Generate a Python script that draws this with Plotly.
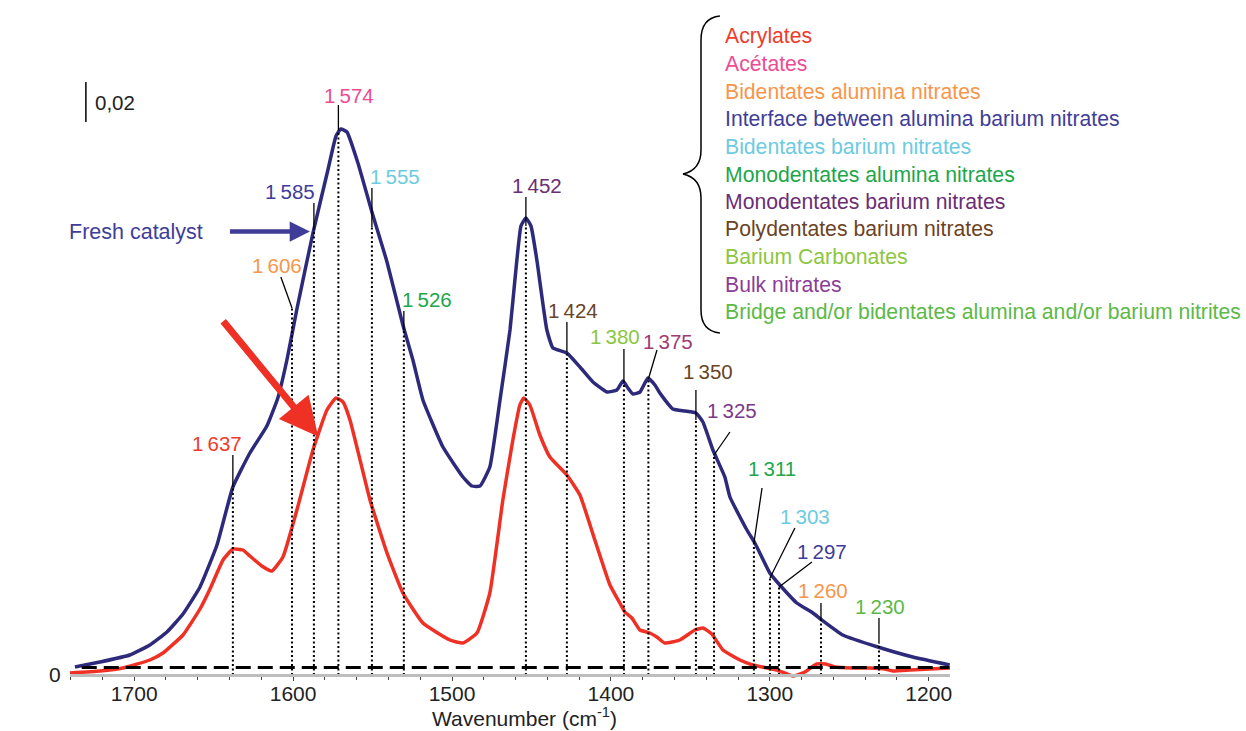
import plotly.graph_objects as go

# ---------------- data ----------------
fresh_x = [1737.3, 1721.6, 1702.7, 1690.1, 1679.4, 1669.3, 1658.6, 1647.9, 1637.9, 1627.2,
           1616.5, 1609.6, 1603.9, 1597.6, 1587.5, 1578.1, 1573.0, 1569.9, 1566.1, 1559.2,
           1550.4, 1540.9, 1530.9, 1524.6, 1518.3, 1505.7, 1493.1, 1487.5, 1482.4, 1476.2,
           1469.8, 1463.5, 1459.8, 1456.6, 1453.5, 1450.3, 1446.6, 1440.3, 1436.5, 1427.7,
           1419.5, 1411.3, 1402.5, 1396.2, 1392.4, 1389.3, 1386.1, 1381.7, 1376.7, 1372.3,
           1369.2, 1361.0, 1353.4, 1346.5, 1342.1, 1335.8, 1328.3, 1325.1, 1314.4, 1309.4,
           1300.0, 1293.7, 1283.0, 1272.9, 1267.3, 1254.1, 1232.0, 1210.0, 1186.8]
fresh_y = [0.0040, 0.0065, 0.0100, 0.0150, 0.0215, 0.0305, 0.0440, 0.0650, 0.0940, 0.1110,
           0.1245, 0.1385, 0.1575, 0.1830, 0.2210, 0.2525, 0.2695, 0.2730, 0.2715, 0.2560,
           0.2315, 0.2065, 0.1750, 0.1575, 0.1375, 0.1140, 0.0990, 0.0945, 0.0945, 0.1040,
           0.1375, 0.1725, 0.2025, 0.2245, 0.2285, 0.2245, 0.2075, 0.1725, 0.1635, 0.1610,
           0.1540, 0.1465, 0.1415, 0.1425, 0.1470, 0.1435, 0.1405, 0.1415, 0.1485, 0.1450,
           0.1410, 0.1330, 0.1320, 0.1310, 0.1265, 0.1125, 0.0990, 0.0890, 0.0725, 0.0660,
           0.0510, 0.0450, 0.0360, 0.0310, 0.0275, 0.0200, 0.0140, 0.0090, 0.0050]

aged_x = [1740.5, 1721.6, 1707.1, 1690.1, 1681.9, 1669.3, 1658.6, 1652.3, 1644.1, 1637.9,
          1631.6, 1627.2, 1619.7, 1613.4, 1606.4, 1597.6, 1587.5, 1578.7, 1573.0, 1568.6,
          1564.2, 1551.6, 1540.9, 1530.9, 1518.3, 1501.3, 1493.1, 1484.3, 1476.2, 1468.0,
          1461.7, 1457.3, 1454.8, 1451.0, 1444.7, 1438.4, 1427.7, 1419.5, 1410.1, 1400.6,
          1394.4, 1391.2, 1386.8, 1381.7, 1375.5, 1371.1, 1366.1, 1356.6, 1347.2, 1342.1,
          1336.5, 1329.5, 1318.8, 1310.7, 1295.6, 1285.5, 1278.0, 1270.5, 1264.8, 1259.1,
          1247.8, 1237.1, 1227.6, 1222.6, 1211.9, 1199.4, 1184.9]
aged_y = [0.0010, 0.0020, 0.0035, 0.0075, 0.0110, 0.0200, 0.0330, 0.0430, 0.0575, 0.0630,
          0.0625, 0.0595, 0.0545, 0.0520, 0.0590, 0.0825, 0.1125, 0.1325, 0.1385, 0.1365,
          0.1275, 0.0875, 0.0610, 0.0410, 0.0260, 0.0175, 0.0160, 0.0210, 0.0410, 0.0875,
          0.1175, 0.1350, 0.1385, 0.1350, 0.1200, 0.1090, 0.1000, 0.0900, 0.0675, 0.0450,
          0.0360, 0.0315, 0.0285, 0.0225, 0.0210, 0.0190, 0.0160, 0.0175, 0.0225, 0.0235,
          0.0205, 0.0125, 0.0075, 0.0050, 0.0025, -0.0005, 0.0015, 0.0055, 0.0055, 0.0040,
          0.0035, 0.0035, 0.0030, 0.0020, 0.0025, 0.0030, 0.0035]

peak_labels = [1637, 1606, 1585, 1574, 1555, 1526, 1452, 1424, 1380, 1375, 1350, 1325,
               1311, 1303, 1297, 1260, 1230]
peak_colors = ["#ef3b2c", "#f7964a", "#3f3d98", "#ec4c94", "#6dcbe0", "#20a64a", "#6b2d74",
               "#6b4325", "#8cc63f", "#a03a74", "#6b4325", "#7a3a8c", "#20a64a", "#6dcbe0",
               "#3f3d98", "#f7964a", "#5cb947"]
line_pos = [1637.9, 1600.7, 1586.9, 1571.5, 1550.4, 1530.3, 1453.5, 1427.7, 1391.8, 1376.4,
            1346.5, 1335.1, 1310.0, 1299.9, 1294.2, 1267.8, 1231.3]
line_top = [0.094, 0.1835, 0.2225, 0.2725, 0.224, 0.1725, 0.2245, 0.1615, 0.147, 0.148,
            0.1275, 0.110, 0.066, 0.0485, 0.044, 0.0275, 0.016]
leader_x = [1637.9, 1607.7, 1586.9, 1571.5, 1550.4, 1530.3, 1453.5, 1427.7, 1391.8, 1371.0,
            1346.5, 1325.1, 1304.9, 1284.2, 1273.5, 1267.8, 1231.3]
leader_y = [0.110, 0.199, 0.236, 0.285, 0.2435, 0.182, 0.239, 0.1765, 0.163, 0.1625,
            0.1425, 0.1215, 0.0935, 0.0735, 0.0565, 0.036, 0.0285]
label_x = [1648.1, 1610.4, 1602.0, 1564.7, 1535.9, 1516.0, 1446.7, 1423.7, 1397.4, 1363.9,
           1338.7, 1324.0, 1298.8, 1277.9, 1267.3, 1266.3, 1230.7]
label_y = [0.116, 0.205, 0.2417, 0.290, 0.2492, 0.188, 0.245, 0.1825, 0.1695, 0.167,
           0.1517, 0.1325, 0.1034, 0.0792, 0.0617, 0.0425, 0.0342]

legend_names = ["Acrylates", "Acétates", "Bidentates alumina nitrates",
                "Interface between alumina barium nitrates", "Bidentates barium nitrates",
                "Monodentates alumina nitrates", "Monodentates barium nitrates",
                "Polydentates barium nitrates", "Barium Carbonates", "Bulk nitrates",
                "Bridge and/or bidentates alumina and/or barium nitrites"]
legend_colors = ["#ef3b2c", "#ec4c94", "#f7964a", "#3f3d98", "#6dcbe0", "#20a64a",
                 "#6b2d74", "#6b4325", "#8cc63f", "#8b3d98", "#5cb947"]

tick_vals = [1700, 1600, 1500, 1400, 1300, 1200]
tick_text = ["1700", "1600", "1500", "1400", "1300", "1200"]

baseline = 0.0037
scale_bar = 0.02

FONT = "Liberation Sans, Arial, Helvetica, sans-serif"
BLUE = "#2d2a7b"
RED = "#ee3124"
TXT = "#222222"

ymin, ymax = -0.004, 0.3325
xr = [1740.4, 1186.6]


def yp(v):
    """data y -> paper y (for text placed below the axis)"""
    return (v - ymin) / (ymax - ymin)


def xp(v):
    return (v - xr[0]) / (xr[1] - xr[0])


fig = go.Figure()

# spectra
fig.add_trace(go.Scatter(x=fresh_x, y=fresh_y, mode="lines",
                         line=dict(color=BLUE, width=3.5, shape="spline", smoothing=0.4),
                         hoverinfo="skip"))
fig.add_trace(go.Scatter(x=aged_x, y=aged_y, mode="lines",
                         line=dict(color=RED, width=3.5, shape="spline", smoothing=0.4),
                         hoverinfo="skip"))

# dotted guide lines and leaders
for i in range(len(peak_labels)):
    fig.add_trace(go.Scatter(x=[line_pos[i], line_pos[i]], y=[0, line_top[i]], mode="lines",
                             line=dict(color="black", width=2, dash="2px,2.5px"),
                             hoverinfo="skip"))
    fig.add_trace(go.Scatter(x=[line_pos[i], leader_x[i]], y=[line_top[i], leader_y[i]],
                             mode="lines", line=dict(color="black", width=1.3),
                             hoverinfo="skip"))

# dashed zero baseline
fig.add_trace(go.Scatter(x=[1733, 1187], y=[baseline, baseline], mode="lines",
                         line=dict(color="black", width=3, dash="15px,7px"), hoverinfo="skip"))

annotations = []
for i, v in enumerate(peak_labels):
    s = str(v)
    annotations.append(dict(x=label_x[i], y=label_y[i], xref="x", yref="y",
                            text=s[0] + "\u2009" + s[1:], showarrow=False,
                            font=dict(family=FONT, size=20.5, color=peak_colors[i]),
                            xanchor="center", yanchor="middle"))

# legend list on the right
for i, name in enumerate(legend_names):
    annotations.append(dict(x=1329.5, y=0.3195 - i * 0.0138, xref="x", yref="y",
                            text=name, showarrow=False, xanchor="left", yanchor="middle",
                            font=dict(family=FONT, size=21.2, color=legend_colors[i])))

# scale bar label and zero label
annotations.append(dict(x=1726.0, y=0.2865, xref="x", yref="y", text="0,02", showarrow=False,
                        xanchor="left", yanchor="middle",
                        font=dict(family=FONT, size=20.5, color=TXT)))
annotations.append(dict(x=xp(1749.9), y=yp(0.0005), xref="paper", yref="paper", text="0",
                        showarrow=False, xanchor="center", yanchor="middle",
                        font=dict(family=FONT, size=21, color=TXT)))

# x-axis title (bottom edge sits on the figure's bottom)
annotations.append(dict(x=xp(1454.1), y=yp(-0.028), xref="paper", yref="paper",
                        text="Wavenumber (cm<sup>-1</sup>)", showarrow=False,
                        xanchor="center", yanchor="bottom", borderpad=0,
                        font=dict(family=FONT, size=21, color=TXT)))

# catalyst labels and arrows
annotations.append(dict(x=1698.9, y=0.2215, xref="x", yref="y", text="Fresh catalyst",
                        showarrow=False, xanchor="center", yanchor="middle",
                        font=dict(family=FONT, size=21.5, color="#3f3d98")))
annotations.append(dict(x=1589.4, y=0.2217, xref="x", yref="y", text=" ", showarrow=True,
                        ax=-83, ay=0, arrowhead=2, arrowsize=0.9, arrowwidth=4.5,
                        arrowcolor="#3f3d98", standoff=0))
annotations.append(dict(x=1777.0, y=0.178, xref="x", yref="y",
                        text="Hydrothermal aged<br>catalyst (800°C)", showarrow=False,
                        xanchor="left", yanchor="middle", align="left",
                        font=dict(family=FONT, size=21.5, color=RED)))
annotations.append(dict(x=1584.2, y=0.1192, xref="x", yref="y", text=" ", showarrow=True,
                        ax=-98, ay=-119, arrowhead=2, arrowsize=1.1, arrowwidth=7,
                        arrowcolor=RED, standoff=0))

shapes = [
    # scale bar
    dict(type="line", xref="x", yref="y", x0=1730.4, x1=1730.4, y0=0.2965 - scale_bar,
         y1=0.2965, line=dict(color="black", width=1.5)),
    # curly brace
    dict(type="path", xref="x", yref="y",
         path=("M 1331.4,0.3295 Q 1343.3,0.3285 1343.3,0.3175 L 1343.3,0.2625 "
               "Q 1343.3,0.2525 1354.6,0.2505 Q 1343.3,0.2485 1343.3,0.2385 "
               "L 1343.3,0.1825 Q 1343.3,0.1720 1331.4,0.1710"),
         line=dict(color="black", width=1.5)),
]

fig.update_layout(
    width=1246, height=731,
    margin=dict(l=70, r=296, t=10, b=48),
    paper_bgcolor="white", plot_bgcolor="white",
    showlegend=False,
    annotations=annotations,
    shapes=shapes,
    xaxis=dict(range=xr, tickvals=tick_vals, ticktext=tick_text,
               showgrid=False, zeroline=False, showline=True, linecolor="#bdbdbd", linewidth=3,
               ticks="outside", ticklen=4, tickwidth=1, tickcolor="#444444",
               minor=dict(dtick=20, ticks="outside", ticklen=3, tickwidth=1, tickcolor="#444444"),
               tickfont=dict(family=FONT, size=21, color=TXT), ticklabelstandoff=-5,
               anchor="free", position=yp(0)),
    yaxis=dict(range=[ymin, ymax], visible=False),
)

fig.write_html("out.html")
